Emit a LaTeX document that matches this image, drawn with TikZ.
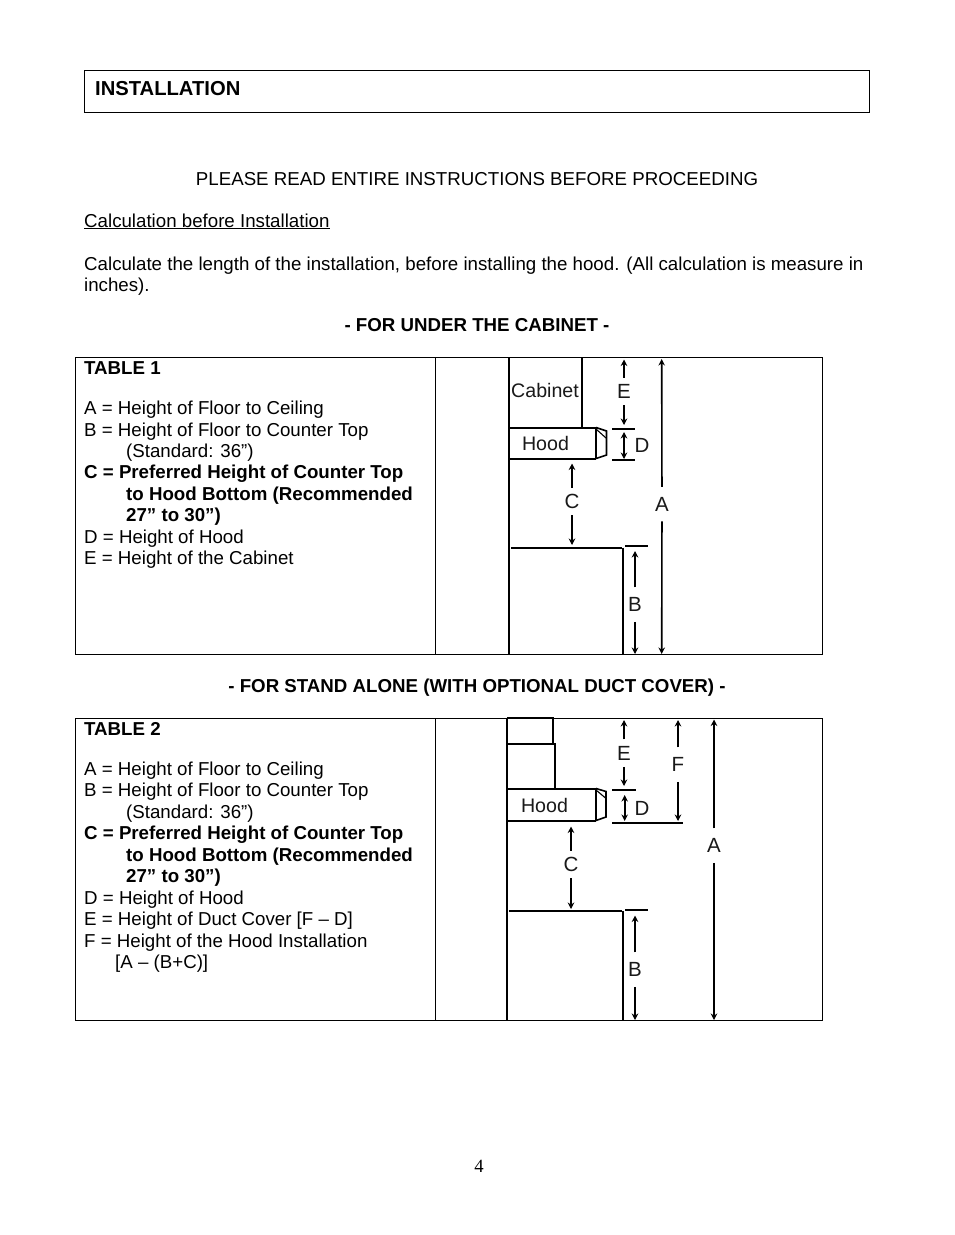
\documentclass[tikz,border=0pt]{standalone}
\usepackage{fontspec}
\setmainfont{Liberation Sans}
\newfontfamily\pagenumfont{Liberation Serif}
\usetikzlibrary{arrows.meta}
\newcommand{\bodyfs}{\fontsize{18.7}{21.3}\selectfont}
\newcommand{\lblfs}{\fontsize{19.6}{22}\selectfont}
\newcommand{\dimfs}{\fontsize{20.5}{22}\selectfont}
\tikzset{
  txt/.style={anchor=base west,inner sep=0pt,font=\bodyfs,text=black},
  ctxt/.style={anchor=base,inner sep=0pt,font=\bodyfs,text=black},
  btxt/.style={txt,font=\bodyfs\bfseries},
  bctxt/.style={ctxt,font=\bodyfs\bfseries},
  frame/.style={draw=black,line width=1.1pt},
  wall/.style={draw=black,line width=2pt},
  tick/.style={draw=black,line width=2pt},
  tip/.style={draw=black,line width=1.6pt},
  tipline/.style={draw=black,line width=1.1pt},
  dim/.style={draw=black,line width=1.6pt,-{Stealth[length=6.5pt,width=6.5pt]}},
  lbl/.style={inner sep=1pt,font=\lblfs,text=black!90},
  dimlbl/.style={inner xsep=2pt,inner ysep=6.5pt,font=\dimfs,text=black!90},
  dimlblw/.style={dimlbl,inner ysep=10pt},
}
\begin{document}
\begin{tikzpicture}[x=1pt,y=-1pt]
\useasboundingbox[fill=white] (0,0) rectangle (954,1235);
% header
\draw[frame] (84.5,70.5) rectangle (869.5,112.5);
\node[btxt,font=\fontsize{20.2}{22}\selectfont\bfseries] (inst) at (95,95) {INSTALLATION};
\node[ctxt] (please) at (477,185) {PLEASE READ ENTIRE INSTRUCTIONS BEFORE PROCEEDING};
\node[txt] (calc) at (84,227) {\underline{Calculation before Installation}};
\node[txt] (calc1) at (84,270) {Calculate the length of the installation, before installing the hood. (All calculation is measure in};
\node[txt] (calc2) at (84,291) {inches).};
\node[bctxt] (under) at (477,331) {- FOR UNDER THE CABINET -};
% table 1
\draw[frame] (75.5,357.5) rectangle (822.5,654.5);
\draw[frame] (435.5,357.5) -- (435.5,654.5);
\node[btxt] (t1h) at (84,374) {TABLE 1};
\node[txt] (t1a) at (84,414) {A = Height of Floor to Ceiling};
\node[txt] (t1b) at (84,436) {B = Height of Floor to Counter Top};
\node[txt] (t1s) at (126,457) {(Standard: 36”)};
\node[btxt] (t1c) at (84,478) {C = Preferred Height of Counter Top};
\node[btxt] (t1c2) at (126,500) {to Hood Bottom (Recommended};
\node[btxt] (t1c3) at (126,521) {27” to 30”)};
\node[txt] (t1d) at (84,543) {D = Height of Hood};
\node[txt] (t1e) at (84,564) {E = Height of the Cabinet};
% drawing 1
\draw[wall] (509,358) -- (509,654);
\draw[wall] (582,358) -- (582,427);
\draw[wall] (509,427.5) -- (596,427.5);
\draw[wall] (509,458.5) -- (596,458.5);
\draw[wall] (596,427.5) -- (596,458.5);
\draw[tip] (596,427.5) -- (606.5,431) -- (606.5,455) -- (596,458.5);
\draw[tipline] (596,429) -- (606,438);
\draw[wall] (511,547.5) -- (622,547.5);
\draw[wall] (623,547.5) -- (623,654);
\node[lbl] (cab1) at (545,390) {Cabinet};
\node[lbl] (hood1) at (545.5,443.5) {Hood};
\draw[tick] (612,429) -- (635,429);
\draw[tick] (612,460) -- (635,460);
\draw[tick] (625,546) -- (648,546);
\coordinate (e1t) at (624,359.5); \coordinate (e1b) at (624,425);
\coordinate (d1t) at (624,432); \coordinate (d1b) at (624,459);
\coordinate (d1m) at (624,445);
\coordinate (c1t) at (572,463.5); \coordinate (c1b) at (572,545);
\coordinate (a1t) at (661.7,359); \coordinate (a1b) at (661.7,654);
\coordinate (b1t) at (635,551); \coordinate (b1b) at (635,654);
\node[dimlbl] (e1) at (624,391.5) {E};
\node[dimlbl,inner ysep=1pt] (d1) at (642,445.5) {D};
\node[dimlbl] (c1) at (572,501.5) {C};
\node[dimlblw] (a1) at (662,504) {A};
\node[dimlblw] (b1) at (635,604.5) {B};
\draw[dim] (e1) -- (e1t);
\draw[dim] (e1) -- (e1b);
\draw[dim] (d1m) -- (d1t);
\draw[dim] (d1m) -- (d1b);
\draw[dim] (c1) -- (c1t);
\draw[dim] (c1) -- (c1b);
\draw[dim] (a1) -- (a1t);
\draw[dim] (a1) -- (a1b);
\draw[dim] (b1) -- (b1t);
\draw[dim] (b1) -- (b1b);
% middle heading
\node[bctxt] (stand) at (477,692) {- FOR STAND ALONE (WITH OPTIONAL DUCT COVER) -};
% table 2
\draw[frame] (75.5,718.5) rectangle (822.5,1020.5);
\draw[frame] (435.5,718.5) -- (435.5,1020.5);
\node[btxt] (t2h) at (84,735) {TABLE 2};
\node[txt] (t2a) at (84,775) {A = Height of Floor to Ceiling};
\node[txt] (t2b) at (84,796) {B = Height of Floor to Counter Top};
\node[txt] (t2s) at (126,818) {(Standard: 36”)};
\node[btxt] (t2c) at (84,839) {C = Preferred Height of Counter Top};
\node[btxt] (t2c2) at (126,861) {to Hood Bottom (Recommended};
\node[btxt] (t2c3) at (126,882) {27” to 30”)};
\node[txt] (t2d) at (84,904) {D = Height of Hood};
\node[txt] (t2e) at (84,925) {E = Height of Duct Cover [F – D]};
\node[txt] (t2f) at (84,947) {F = Height of the Hood Installation};
\node[txt] (t2f2) at (115,968) {[A – (B+C)]};
% drawing 2
\draw[wall] (507,718) -- (507,1020);
\draw[wall] (507,718) -- (553,718) -- (553,744);
\draw[wall] (507,744) -- (555,744) -- (555,788);
\draw[wall] (507,788.5) -- (596,788.5);
\draw[wall] (507,820.5) -- (596,820.5);
\draw[wall] (596,788.5) -- (596,820.5);
\draw[tip] (596,788.5) -- (606,791.5) -- (606,817) -- (596,820.5);
\draw[tipline] (596,790) -- (605.5,798);
\draw[wall] (509,911) -- (622,911);
\draw[wall] (623,911) -- (623,1020);
\node[lbl] (hood2) at (544.5,805.5) {Hood};
\draw[tick] (612,790) -- (636,790);
\draw[tick] (612,822.7) -- (683,822.7);
\draw[tick] (625,910) -- (648,910);
\coordinate (e2t) at (624,720); \coordinate (e2b) at (624,786);
\coordinate (d2t) at (624.7,795); \coordinate (d2b) at (624.7,821);
\coordinate (d2m) at (624.7,808);
\coordinate (f2t) at (678,720); \coordinate (f2b) at (678,821);
\coordinate (c2t) at (571,826.5); \coordinate (c2b) at (571,909);
\coordinate (a2t) at (714,719.5); \coordinate (a2b) at (714,1020);
\coordinate (b2t) at (635,915.5); \coordinate (b2b) at (635,1020);
\node[dimlbl] (e2) at (624,753) {E};
\node[dimlbl,inner ysep=1pt] (d2) at (642,808) {D};
\node[dimlblw] (f2) at (678,764.5) {F};
\node[dimlbl] (c2) at (571,864.5) {C};
\node[dimlblw] (a2) at (714,845.5) {A};
\node[dimlblw] (b2) at (635,969.5) {B};
\draw[dim] (e2) -- (e2t);
\draw[dim] (e2) -- (e2b);
\draw[dim] (d2m) -- (d2t);
\draw[dim] (d2m) -- (d2b);
\draw[dim] (f2) -- (f2t);
\draw[dim] (f2) -- (f2b);
\draw[dim] (c2) -- (c2t);
\draw[dim] (c2) -- (c2b);
\draw[dim] (a2) -- (a2t);
\draw[dim] (a2) -- (a2b);
\draw[dim] (b2) -- (b2t);
\draw[dim] (b2) -- (b2b);
% page number
\node[anchor=base,inner sep=0pt,font=\pagenumfont\fontsize{18.7}{21}\selectfont] (pg) at (479,1172) {4};
\end{tikzpicture}
\end{document}
